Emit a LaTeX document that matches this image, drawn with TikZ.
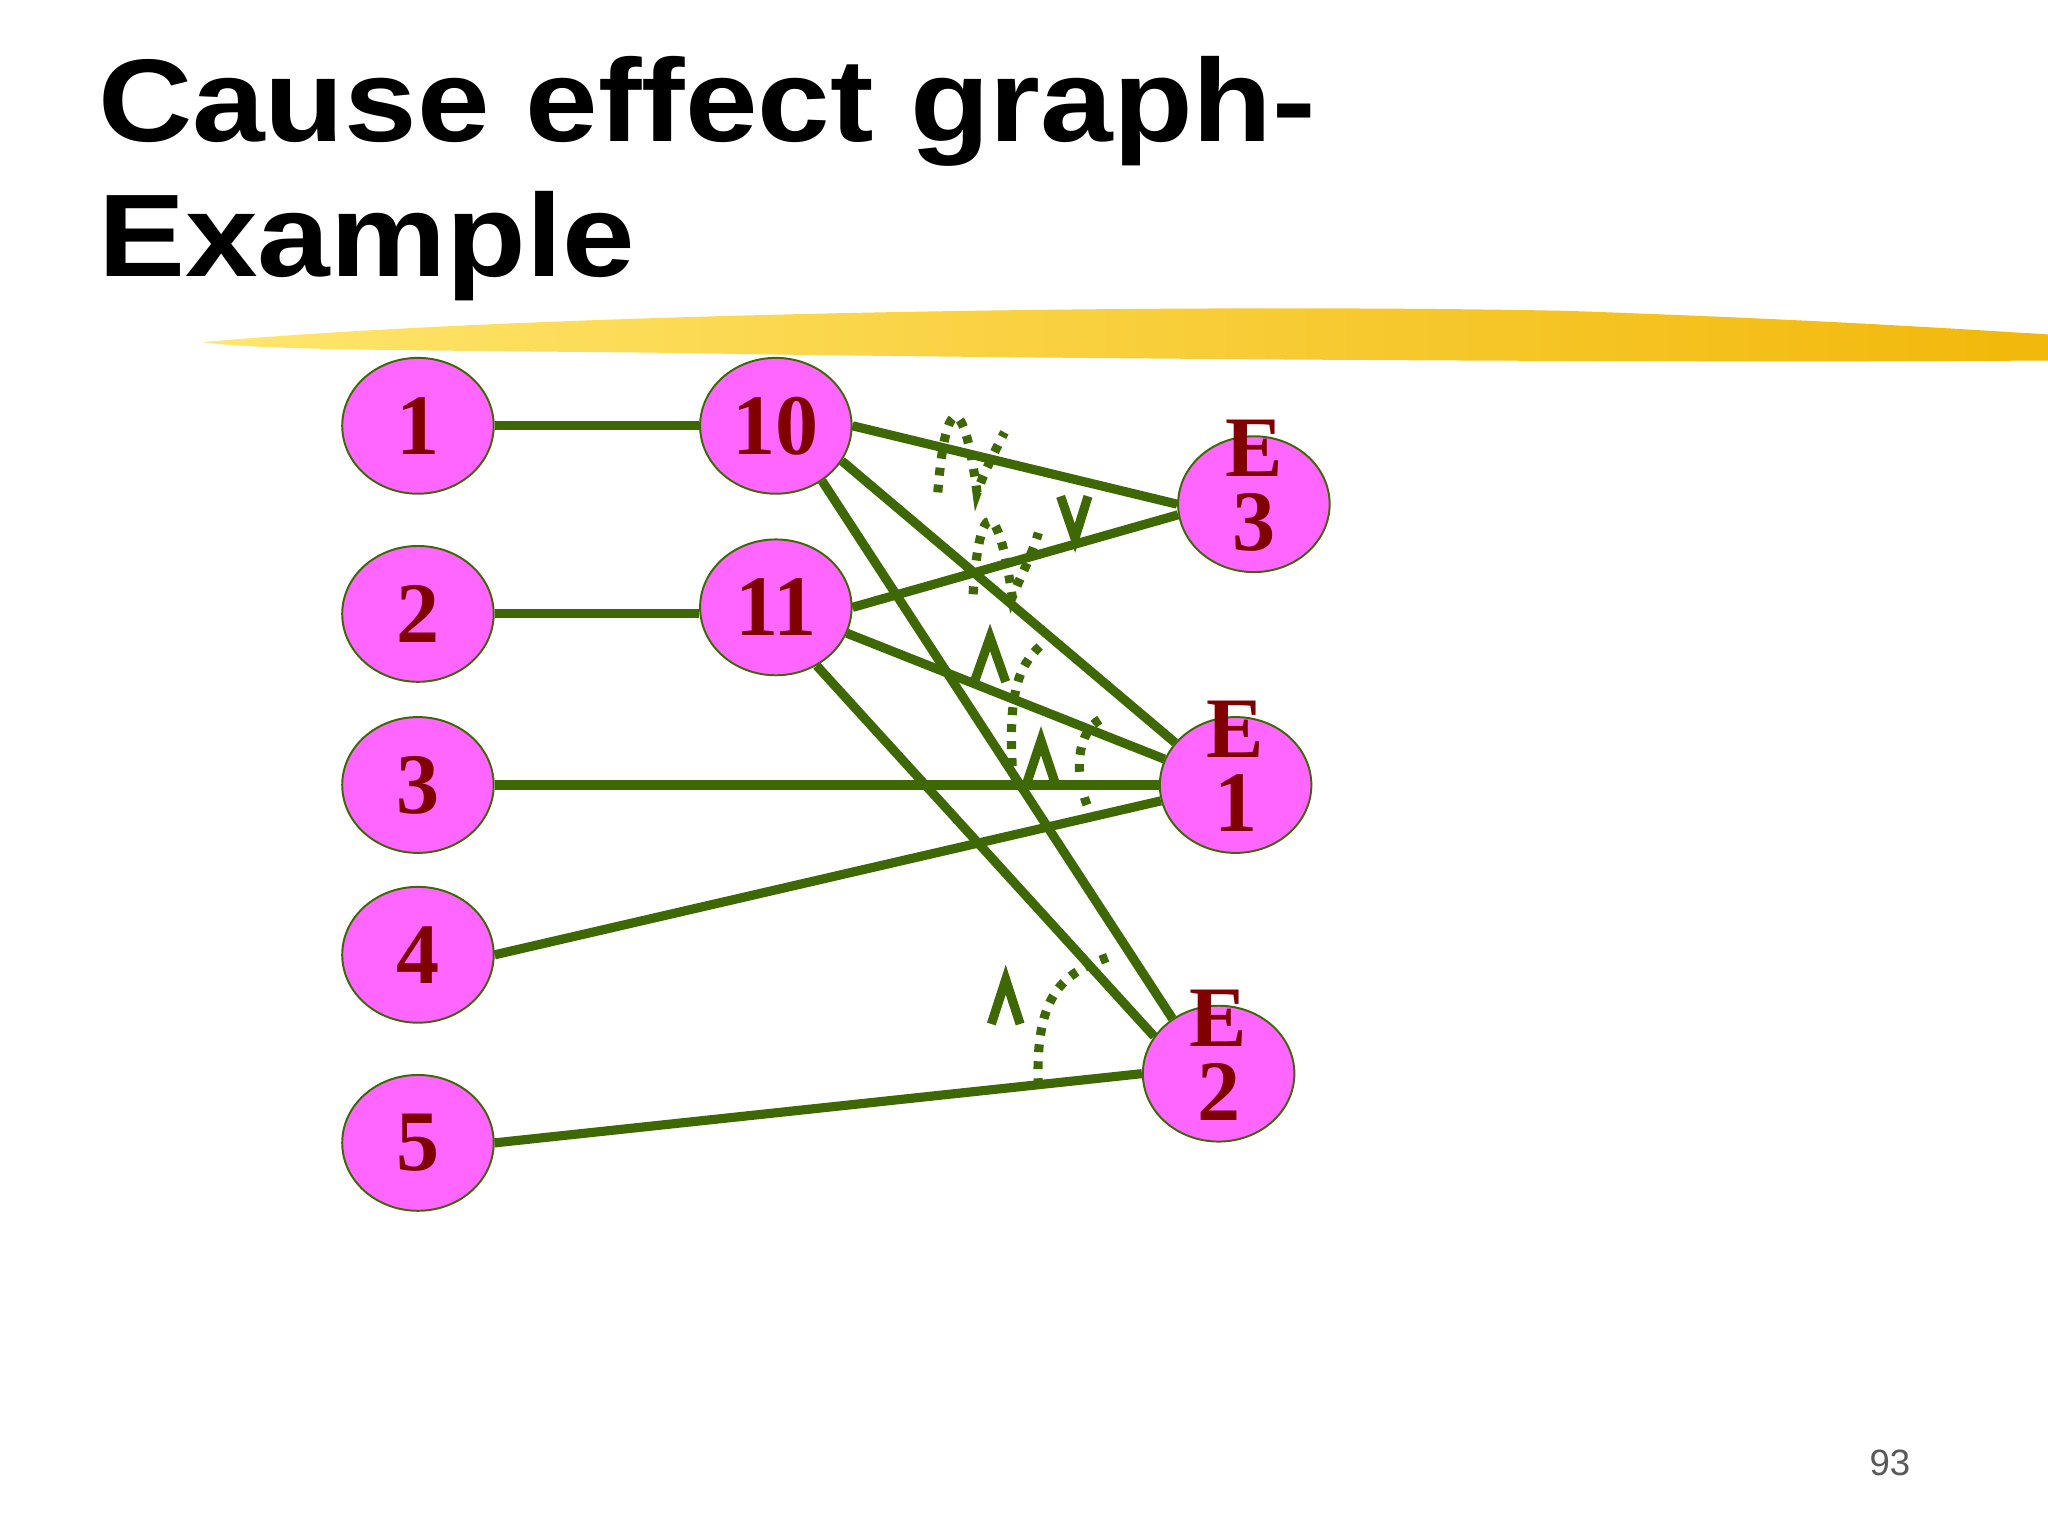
\documentclass[tikz,border=0pt]{standalone}
\usepackage{fontspec}
\setmainfont{Liberation Serif}
\setsansfont{Liberation Sans}
\newfontfamily\titlefont[FakeStretch=1.11]{Liberation Sans Bold}
\newcommand{\twoline}[2]{\raisebox{-2pt}{\smash{\begin{tabular}{@{}c@{}}#1\\[-5pt]#2\end{tabular}}}}
\begin{document}
\begin{tikzpicture}[x=1pt,y=-1pt,
  gline/.style={draw=gcol,line width=7pt},
  dotl/.style={draw=gcol,line width=7pt,dash pattern=on 6pt off 7pt},
  cnode/.style={ellipse,draw=gcol,line width=1.5pt,fill=pinkf,minimum width=116pt,minimum height=104pt,inner sep=0pt,font=\bfseries\fontsize{66}{60}\selectfont,text=dred,align=center}]
\usetikzlibrary{shapes.geometric}
\definecolor{gcol}{RGB}{62,104,4}
\definecolor{pinkf}{RGB}{255,102,255}
\definecolor{dred}{RGB}{128,0,0}
\definecolor{ya}{RGB}{255,230,110}
\definecolor{yb}{RGB}{242,184,10}
\useasboundingbox (0,0) rectangle (1568,1176);
\fill[white] (0,0) rectangle (1568,1176);
\node[anchor=base west,font=\titlefont\fontsize{90}{104}\selectfont,inner sep=0pt] (t1) at (75,108) {Cause effect graph-};
\node[anchor=base west,font=\titlefont\fontsize{90}{104}\selectfont,inner sep=0pt] (t2) at (75,212) {Example};
\shade[left color=ya,right color=yb] (155,262) .. controls (400,240) and (900,232) .. (1200,238) .. controls (1400,245) and (1500,252) .. (1568,256) -- (1568,276) .. controls (1300,278) and (800,275) .. (500,270) .. controls (300,268) and (200,268) .. (155,262) -- cycle;
\node[cnode] (n1) at (320,326) {1};
\node[cnode] (n2) at (320,470) {2};
\node[cnode] (n3) at (320,601) {3};
\node[cnode] (n4) at (320,731) {4};
\node[cnode] (n5) at (320,875) {5};
\node[cnode] (n10) at (594,326) {10};
\node[cnode] (n11) at (594,465) {11};
\node[cnode] (e3) at (960,386) {\twoline{E}{3}};
\node[cnode] (e1) at (946,601) {\twoline{E}{1}};
\node[cnode] (e2) at (933,822) {\twoline{E}{2}};
\draw[gline] (n1) -- (n10);
\draw[gline] (n2.east) -- (n2.east -| n11.west);
\draw[gline] (n3) -- (e1);
\draw[gline] (n10.east) -- (e3.west);
\draw[gline] (n11.east) -- (e3.188);
\draw[gline] (n10.-28) -- (e1.145);
\draw[gline] (n11.-20) -- (e1.160);
\draw[gline] (n10.-50) -- (e2.130);
\draw[gline] (n11.-55) -- (e2.150);
\draw[gline] (n4.east) -- (e1.192);
\draw[gline] (n5.east) -- (e2.west);
% and / or marks
\draw[gline] (812,380) -- (823,412) -- (833,380);
\draw[gline] (746,522) -- (758,488) -- (770,522);
\draw[gline] (786,600) -- (797,567) -- (808,600);
\draw[gline] (759,784) -- (770,750) -- (781,784);
% dotted arcs
\draw[dotl] (718,377) .. controls (724,300) and (738,300) .. (748,377) .. controls (754,360) and (762,345) .. (769,331);
\draw[dotl] (745,455) .. controls (750,380) and (764,380) .. (775,457) .. controls (782,440) and (790,425) .. (795,408);
\draw[dotl] (796,495) .. controls (780,510) and (772,530) .. (775,587);
\draw[dotl] (842,551) .. controls (826,560) and (820,590) .. (835,623);
\draw[dotl] (848,733) .. controls (815,745) and (792,760) .. (795,832);
\node[font=\sffamily\fontsize{28}{30}\selectfont,text=black!65] (pg) at (1447,1120) {93};
\end{tikzpicture}
\end{document}
